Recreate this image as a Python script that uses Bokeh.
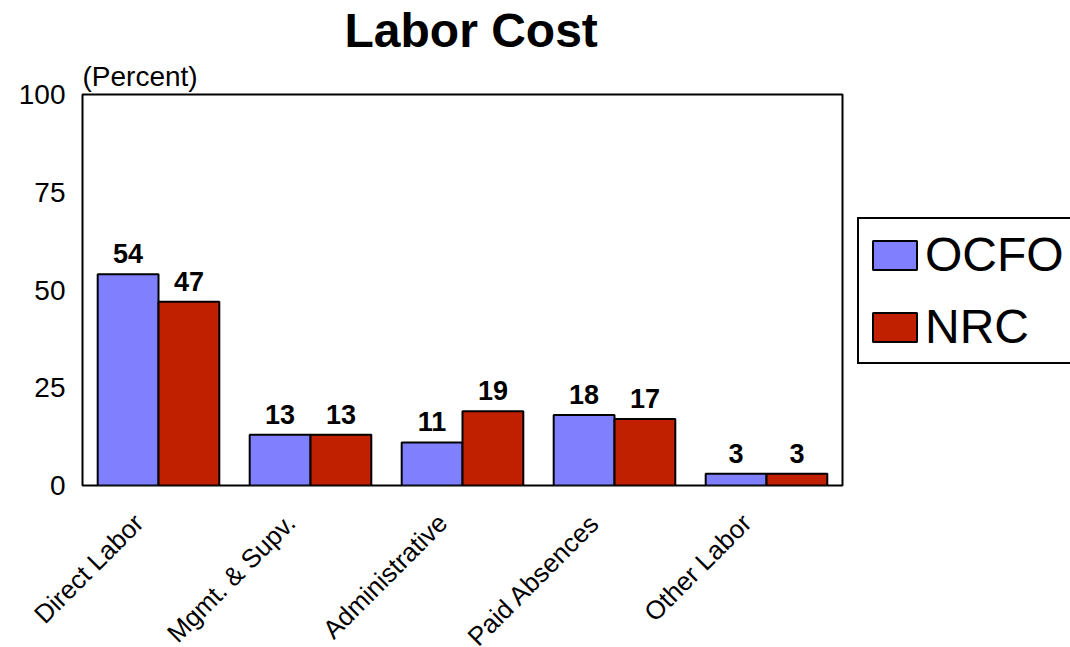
from math import pi
from bokeh.plotting import figure
from bokeh.core.properties import value
from bokeh.models import (ColumnDataSource, Range1d, FixedTicker, LabelSet,
                          Legend, LegendItem, Title, LinearAxis)
from bokeh.transform import dodge
from bokeh.embed import file_html
from bokeh.resources import INLINE

categories = ["Direct Labor", "Mgmt. & Supv.", "Administrative", "Paid Absences", "Other Labor"]
ocfo = [54, 13, 11, 18, 3]
nrc = [47, 13, 19, 17, 3]
series_names = ["OCFO", "NRC"]
y_ticks = [0, 25, 50, 75, 100]

FONT = "Liberation Sans"
OCFO_COLOR = "#8080FF"
NRC_COLOR = "#C02000"
LBL_SHIFT = 0.13  # category-label anchor shift (fraction of a category slot)

n = len(categories)
idx = list(range(n))
src = ColumnDataSource(dict(
    idx=idx, cat=categories, ocfo=ocfo, nrc=nrc,
    ocfo_lbl=[str(v) for v in ocfo], nrc_lbl=[str(v) for v in nrc],
))

p = figure(x_range=Range1d(-0.5, n - 0.5), y_range=Range1d(0, 100),
           frame_width=760, frame_height=391,
           min_border_left=82, min_border_top=94, min_border_right=228, min_border_bottom=162,
           output_backend="svg", toolbar_location=None, title=None)

r1 = p.vbar(x=dodge("idx", -0.2), top="ocfo", width=0.4, source=src,
            fill_color=OCFO_COLOR, line_color="black", line_width=2)
r2 = p.vbar(x=dodge("idx", 0.2), top="nrc", width=0.4, source=src,
            fill_color=NRC_COLOR, line_color="black", line_width=2)

for col, off in (("ocfo_lbl", -0.2), ("nrc_lbl", 0.2)):
    top = col.split("_")[0]
    p.add_layout(LabelSet(x=dodge("idx", off), y=top, text=col, source=src,
                          text_align="center", text_baseline="alphabetic", y_offset=11,
                          text_font=value(FONT), text_font_size="27px", text_font_style="bold",
                          text_color="black"))

p.xgrid.grid_line_color = None
p.ygrid.grid_line_color = None
p.outline_line_color = "black"
p.outline_line_width = 2
p.background_fill_color = "white"
p.border_fill_color = "white"

# y axis
p.yaxis.ticker = FixedTicker(ticks=y_ticks)
yax = p.yaxis[0]
yax.axis_line_color = None
yax.major_tick_line_color = None
yax.minor_tick_line_color = None
yax.major_tick_out = 0
yax.major_tick_in = 0
yax.major_label_text_font = FONT
yax.major_label_text_color = "black"
yax.major_label_text_font_size = "28px"
yax.major_label_standoff = 17

# category labels on a slightly shifted index axis
p.xaxis.visible = False
p.extra_x_ranges = {"lbl": Range1d(-0.5 + LBL_SHIFT, n - 0.5 + LBL_SHIFT)}
lbl_axis = LinearAxis(x_range_name="lbl", ticker=FixedTicker(ticks=idx),
                      major_label_overrides={i: c for i, c in zip(idx, categories)},
                      axis_line_color=None, major_tick_line_color=None,
                      minor_tick_line_color=None, major_tick_out=0, major_tick_in=0,
                      major_label_text_font=FONT, major_label_text_color="black",
                      major_label_text_font_size="26px",
                      major_label_orientation=pi / 4, major_label_standoff=33)
p.add_layout(lbl_axis, "below")

legend = Legend(items=[LegendItem(label=series_names[0], renderers=[r1]),
                       LegendItem(label=series_names[1], renderers=[r2])],
                location=(15, 121), orientation="vertical",
                label_text_font=FONT, label_text_font_size="48px", label_text_color="black",
                glyph_width=55, glyph_height=36, label_standoff=3,
                padding=8, spacing=17, margin=0,
                border_line_color="black", border_line_width=2, border_line_alpha=1,
                background_fill_color="white", background_fill_alpha=1)
p.add_layout(legend, "right")

p.add_layout(Title(text="(Percent)", align="left", text_font=FONT, text_font_size="28px",
                   text_font_style="normal", text_color="black", standoff=5,
                   text_line_height=1.0), "above")
p.add_layout(Title(text="Labor Cost", align="left", text_font=FONT, text_font_size="48px",
                   text_font_style="bold", text_color="black", offset=262, standoff=0,
                   text_line_height=1.0), "above")

open("out.html", "w").write(file_html(p, INLINE))
